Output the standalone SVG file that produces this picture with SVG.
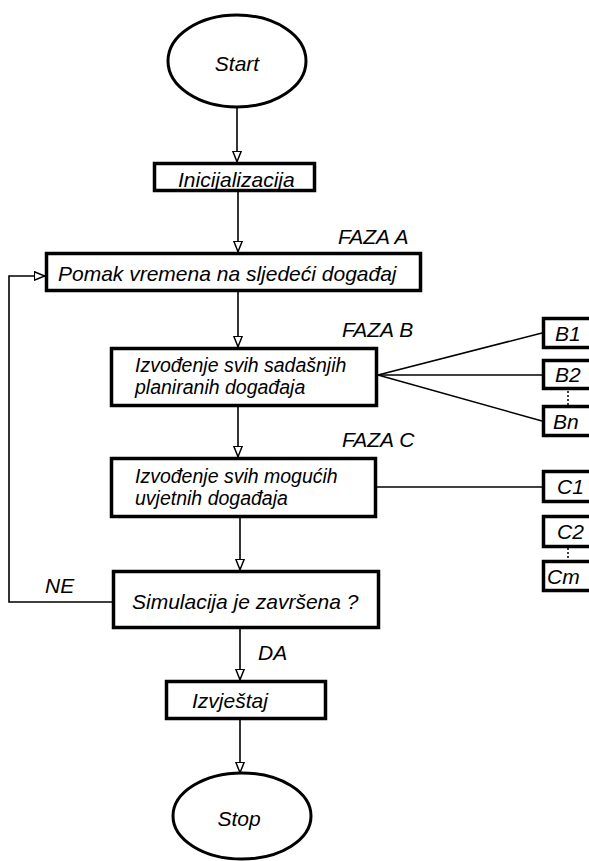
<svg xmlns="http://www.w3.org/2000/svg" width="589" height="861" viewBox="0 0 589 861">
<style>
.box{fill:#fff;stroke:#000;stroke-width:3.5}
.ell{fill:#fff;stroke:#000;stroke-width:3}
.t{font-family:"Liberation Sans",Arial,sans-serif;font-style:italic;font-size:21px;fill:#000}
.s{font-size:19.5px}
.c{text-anchor:middle}
.ln{fill:none;stroke:#000;stroke-width:1.6}
.dot{fill:none;stroke:#000;stroke-width:1.5;stroke-dasharray:2 2}
</style>
<defs>
<marker id="ar" viewBox="0 0 12 10" refX="11.5" refY="5" markerWidth="12" markerHeight="10" markerUnits="userSpaceOnUse" orient="auto">
<path d="M0.8,0.8 L11.2,5 L0.8,9.2 Z" fill="#fff" stroke="#000" stroke-width="1.5"/>
</marker>
</defs>
<rect width="589" height="861" fill="#fff"/>
<g id="connectors">
<path class="ln" d="M237,108 V162" marker-end="url(#ar)"/>
<path class="ln" d="M238,192 V252" marker-end="url(#ar)"/>
<path class="ln" d="M238,292 V347" marker-end="url(#ar)"/>
<path class="ln" d="M238,407 V457" marker-end="url(#ar)"/>
<path class="ln" d="M240,518 V570" marker-end="url(#ar)"/>
<path class="ln" d="M240,629 V680" marker-end="url(#ar)"/>
<path class="ln" d="M240,720 V773" marker-end="url(#ar)"/>
<path class="ln" d="M112,602 H9 V276 H45" marker-end="url(#ar)"/>
<path class="ln" d="M378,375 L542,333"/>
<path class="ln" d="M378,375 L542,375"/>
<path class="ln" d="M378,375 L542,421"/>
<path class="ln" d="M377,487 H542"/>
<path class="dot" d="M568,391 V405"/>
<path class="dot" d="M568,548 V560"/>
</g>
<g id="start">
<ellipse class="ell" cx="237" cy="61" rx="69" ry="46"/>
<text class="t c" x="237" y="71">Start</text>
</g>
<g id="init">
<rect class="box" x="154.5" y="163.5" width="160" height="27"/>
<text class="t" x="178" y="187">Inicijalizacija</text>
</g>
<g id="fazaA">
<rect class="box" x="46.5" y="253.5" width="374" height="37"/>
<text class="t" x="58" y="281">Pomak vremena na sljedeći događaj</text>
<text class="t" x="338" y="244">FAZA A</text>
</g>
<g id="fazaB">
<rect class="box" x="111.5" y="348.5" width="265" height="57"/>
<text class="t s" x="135" y="372">Izvođenje svih sadašnjih</text>
<text class="t s" x="135" y="394">planiranih događaja</text>
<text class="t" x="342" y="337">FAZA B</text>
</g>
<g id="fazaC">
<rect class="box" x="111.5" y="458.5" width="264" height="58"/>
<text class="t s" x="135" y="483">Izvođenje svih mogućih</text>
<text class="t s" x="135" y="505">uvjetnih događaja</text>
<text class="t" x="342" y="447">FAZA C</text>
</g>
<g id="sim">
<rect class="box" x="113.5" y="571.5" width="265" height="56"/>
<text class="t" x="132" y="609">Simulacija je završena ?</text>
<text class="t" x="45" y="593">NE</text>
<text class="t" x="258" y="660">DA</text>
</g>
<g id="izvjestaj">
<rect class="box" x="166.5" y="681.5" width="159" height="37"/>
<text class="t" x="192" y="708">Izvještaj</text>
</g>
<g id="stop">
<ellipse class="ell" cx="242" cy="816" rx="69" ry="43"/>
<text class="t c" x="239" y="826">Stop</text>
</g>
<g id="B1"><rect class="box" x="543.5" y="318.5" width="60" height="29"/><text class="t" x="555" y="341">B1</text></g>
<g id="B2"><rect class="box" x="543.5" y="360.5" width="60" height="28"/><text class="t" x="555" y="382">B2</text></g>
<g id="Bn"><rect class="box" x="543.5" y="406.5" width="60" height="29"/><text class="t" x="553" y="429">Bn</text></g>
<g id="C1"><rect class="box" x="543.5" y="471.5" width="60" height="30"/><text class="t" x="557" y="494">C1</text></g>
<g id="C2"><rect class="box" x="543.5" y="516.5" width="60" height="30"/><text class="t" x="557" y="539">C2</text></g>
<g id="Cm"><rect class="box" x="543.5" y="561.5" width="60" height="29"/><text class="t" x="547" y="584">Cm</text></g>
</svg>
